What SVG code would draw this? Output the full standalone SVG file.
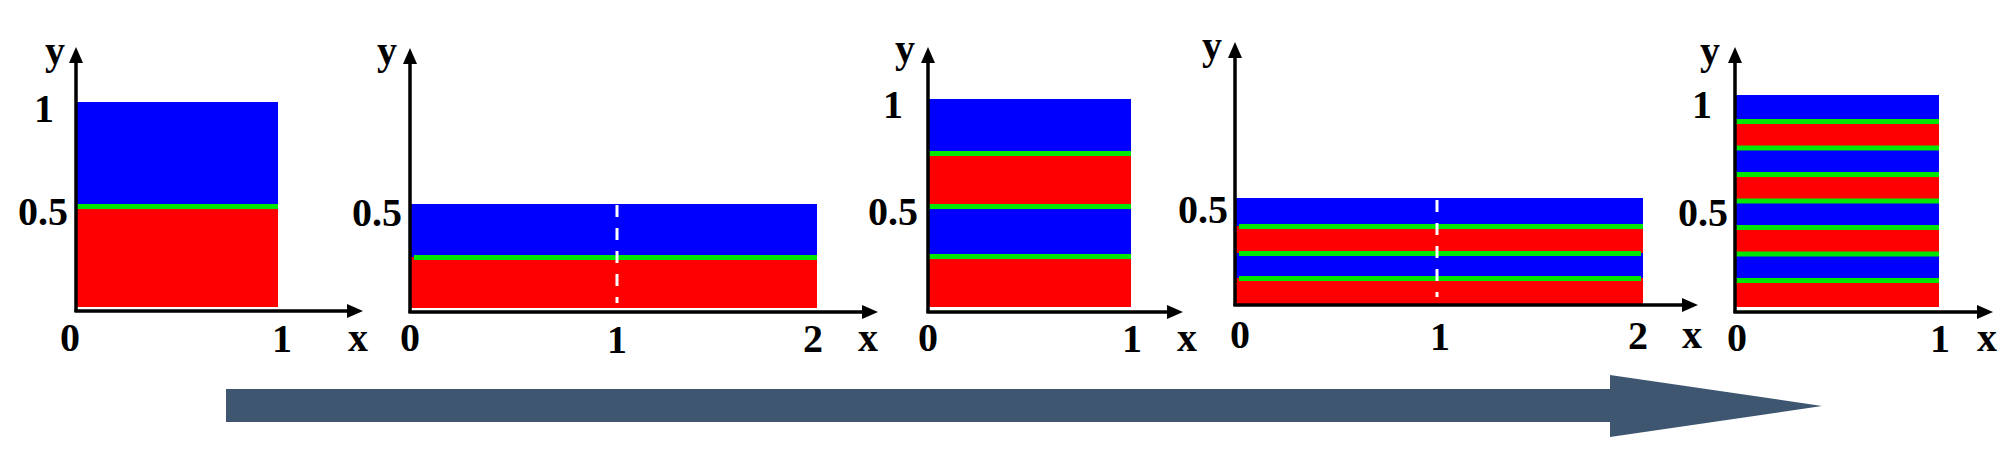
<svg xmlns="http://www.w3.org/2000/svg" width="2015" height="460" viewBox="0 0 2015 460">
<defs>
<style>
.lbl{font-family:"Liberation Serif","Times New Roman",serif;font-weight:bold;font-size:40px;fill:#000}
.mid{text-anchor:middle}
.end{text-anchor:end}
.ax{stroke:#000;stroke-width:3.5;fill:none;marker-end:url(#ah)}
.b{fill:#0000ff}
.r{fill:#ff0000}
.g{fill:#00e600}
.dash{stroke:#ffffff;stroke-width:3;stroke-dasharray:12 11;fill:none}
</style>
<marker id="ah" markerUnits="userSpaceOnUse" markerWidth="16" markerHeight="14" viewBox="0 0 16 14" refX="8" refY="7" orient="auto">
<path d="M0,0 L16,7 L0,14 z" fill="#000"/>
</marker>
</defs>
<rect width="2015" height="460" fill="#fff"/>

<g id="panel1">
<rect class="b" x="76" y="102" width="202" height="104"/>
<rect class="r" x="76" y="206" width="202" height="101"/>
<rect class="g" x="76" y="204" width="202" height="5"/>
<path class="ax" d="M76,312 L76,55"/>
<path class="ax" d="M74.5,311 L355,311"/>
<text class="lbl mid" x="55" y="64">y</text>
<text class="lbl mid" x="44" y="122">1</text>
<text class="lbl end" x="68" y="225">0.5</text>
<text class="lbl mid" x="70" y="351">0</text>
<text class="lbl mid" x="282" y="352">1</text>
<text class="lbl mid" x="358" y="351">x</text>
</g>

<g id="panel2">
<rect class="b" x="410" y="204" width="407" height="53"/>
<rect class="r" x="410" y="257" width="407" height="51"/>
<rect class="g" x="414" y="255" width="403" height="5"/>
<path class="dash" d="M617,205 L617,303"/>
<path class="ax" d="M410,313 L410,56"/>
<path class="ax" d="M408.5,312 L870,312"/>
<text class="lbl mid" x="387" y="64">y</text>
<text class="lbl end" x="402" y="226">0.5</text>
<text class="lbl mid" x="410" y="351">0</text>
<text class="lbl mid" x="617" y="353">1</text>
<text class="lbl mid" x="813" y="352">2</text>
<text class="lbl mid" x="868" y="351">x</text>
</g>

<g id="panel3">
<rect class="b" x="928" y="99" width="203" height="54"/>
<rect class="r" x="928" y="153" width="203" height="53"/>
<rect class="b" x="928" y="206" width="203" height="50"/>
<rect class="r" x="928" y="256" width="203" height="51"/>
<rect class="g" x="928" y="151" width="203" height="5"/>
<rect class="g" x="928" y="204" width="203" height="5"/>
<rect class="g" x="928" y="254" width="203" height="5"/>
<path class="ax" d="M928,313 L928,55"/>
<path class="ax" d="M926.5,312 L1175,312"/>
<text class="lbl mid" x="905" y="62">y</text>
<text class="lbl mid" x="893" y="118">1</text>
<text class="lbl end" x="918" y="225">0.5</text>
<text class="lbl mid" x="928" y="351">0</text>
<text class="lbl mid" x="1132" y="352">1</text>
<text class="lbl mid" x="1187" y="351">x</text>
</g>

<g id="panel4">
<rect class="b" x="1235" y="198" width="408" height="28"/>
<rect class="r" x="1235" y="226" width="408" height="27"/>
<rect class="b" x="1235" y="253" width="408" height="25"/>
<rect class="r" x="1235" y="278" width="408" height="26"/>
<rect class="g" x="1239" y="224" width="404" height="5"/>
<rect class="g" x="1239" y="251" width="402" height="5"/>
<rect class="g" x="1239" y="276" width="402" height="5"/>
<path class="dash" d="M1437,200 L1437,297"/>
<path class="ax" d="M1235,306 L1235,50"/>
<path class="ax" d="M1233.5,305 L1690,305"/>
<text class="lbl mid" x="1212" y="59">y</text>
<text class="lbl end" x="1228" y="223">0.5</text>
<text class="lbl mid" x="1240" y="348">0</text>
<text class="lbl mid" x="1440" y="350">1</text>
<text class="lbl mid" x="1638" y="349">2</text>
<text class="lbl mid" x="1692" y="348">x</text>
</g>

<g id="panel5">
<rect class="b" x="1735" y="95" width="204" height="26.5"/>
<rect class="r" x="1735" y="121.5" width="204" height="26.5"/>
<rect class="b" x="1735" y="148" width="204" height="26.5"/>
<rect class="r" x="1735" y="174.5" width="204" height="26.5"/>
<rect class="b" x="1735" y="201" width="204" height="26.5"/>
<rect class="r" x="1735" y="227.5" width="204" height="26.5"/>
<rect class="b" x="1735" y="254" width="204" height="26.5"/>
<rect class="r" x="1735" y="280.5" width="204" height="26.5"/>
<rect class="g" x="1735" y="119" width="204" height="5"/>
<rect class="g" x="1735" y="145.5" width="204" height="5"/>
<rect class="g" x="1735" y="172" width="204" height="5"/>
<rect class="g" x="1735" y="198.5" width="204" height="5"/>
<rect class="g" x="1735" y="225" width="204" height="5"/>
<rect class="g" x="1735" y="251.5" width="204" height="5"/>
<rect class="g" x="1735" y="278" width="204" height="5"/>
<path class="ax" d="M1735,313 L1735,55"/>
<path class="ax" d="M1733.5,312 L1985,312"/>
<text class="lbl mid" x="1710" y="64">y</text>
<text class="lbl mid" x="1702" y="118">1</text>
<text class="lbl end" x="1728" y="226">0.5</text>
<text class="lbl mid" x="1737" y="351">0</text>
<text class="lbl mid" x="1940" y="352">1</text>
<text class="lbl mid" x="1987" y="351">x</text>
</g>

<g id="connectors">
<path d="M226,389 L1610,389 L1610,375 L1822,406 L1610,437 L1610,422 L226,422 Z" fill="#3e5670"/>
</g>
</svg>
